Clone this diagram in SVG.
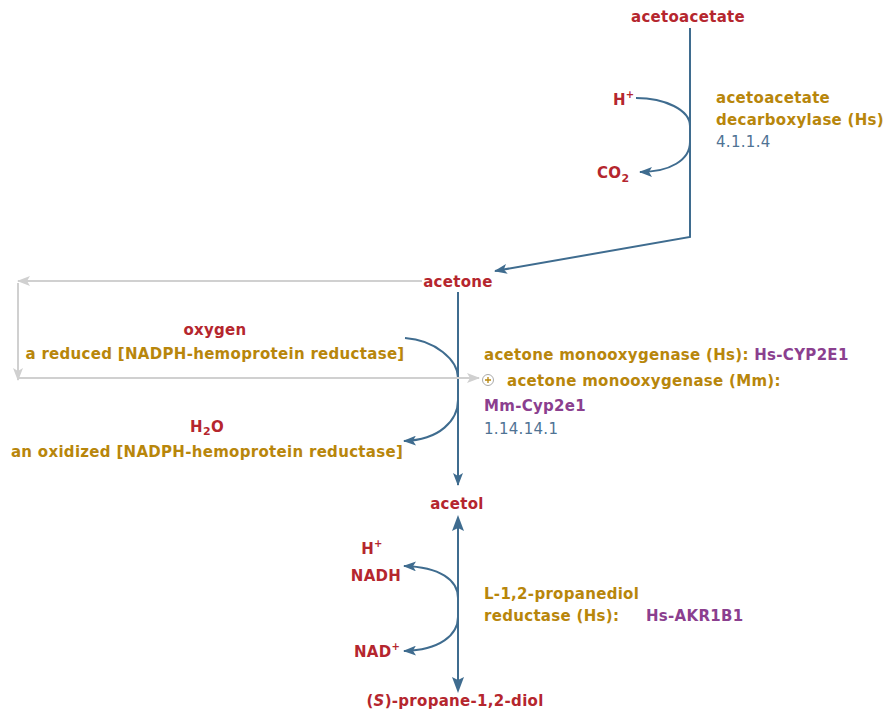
<svg xmlns="http://www.w3.org/2000/svg" width="889" height="715" viewBox="0 0 889 715">
<style>
text{font-family:"DejaVu Sans","Liberation Sans",sans-serif;font-weight:bold;font-size:15px;letter-spacing:0.3px}
.c{fill:#b5262e}
.e{fill:#b8860b}
.g{fill:#8b3f8f}
.n{fill:#4f7394;font-weight:normal}
.ln{fill:none;stroke:#3f6c8f;stroke-width:2}
.gr{fill:none;stroke:#d0d0d0;stroke-width:2}
</style>
<defs>
<marker id="a" markerWidth="13" markerHeight="10" refX="12" refY="5" orient="auto" markerUnits="userSpaceOnUse"><path d="M0,0 L13,5 L0,10 L3,5 Z" fill="#3f6c8f"/></marker>
<marker id="ag" markerWidth="13" markerHeight="10" refX="12" refY="5" orient="auto" markerUnits="userSpaceOnUse"><path d="M0,0 L13,5 L0,10 L3,5 Z" fill="#d0d0d0"/></marker>
</defs>
<g id="connectors">
<polyline class="ln" points="690,28 690,237 495,271" marker-end="url(#a)"/>
<path class="ln" d="M636,98 C665,98 690,110 690,126"/>
<path class="ln" d="M690,142 C690,160 670,172 640,172" marker-end="url(#a)"/>
<line class="ln" x1="458" y1="292" x2="458" y2="485" marker-end="url(#a)"/>
<path class="ln" d="M405,338 C435,340 458,360 458,378"/>
<path class="ln" d="M458,400 C458,420 440,440 404,441" marker-end="url(#a)"/>
<polyline class="gr" points="422,281 18,281" marker-end="url(#ag)"/>
<polyline class="gr" points="18,283 18,380" marker-end="url(#ag)"/>
<polyline class="gr" points="18,378 479,378" marker-end="url(#ag)"/>
<line class="ln" x1="458" y1="528" x2="458" y2="680"/>
<path d="M458,515 L452,531 L458,528 L464,531 Z" fill="#3f6c8f"/>
<path d="M458,693 L452,677 L458,680 L464,677 Z" fill="#3f6c8f"/>
<path class="ln" d="M458,598 C458,580 440,567 404,566" marker-end="url(#a)"/>
<path class="ln" d="M458,617 C458,635 440,650 404,651" marker-end="url(#a)"/>
</g>
<g id="n-acetoacetate"><text class="c" x="688" y="22" text-anchor="middle">acetoacetate</text></g>
<g id="n-hplus1"><text class="c" x="613" y="105">H<tspan font-size="10" dy="-7">+</tspan></text></g>
<g id="n-co2"><text class="c" x="597" y="178">CO<tspan font-size="11" dy="4">2</tspan></text></g>
<g id="n-enz1">
<text class="e" x="716" y="103">acetoacetate</text>
<text class="e" x="716" y="125">decarboxylase (Hs)</text>
<text class="n" x="716" y="147">4.1.1.4</text>
</g>
<g id="n-acetone"><text class="c" x="458" y="287" text-anchor="middle">acetone</text></g>
<g id="n-oxygen">
<text class="c" x="215" y="335" text-anchor="middle">oxygen</text>
<text class="e" x="215" y="359" text-anchor="middle">a reduced [NADPH-hemoprotein reductase]</text>
</g>
<g id="n-h2o">
<text class="c" x="207" y="432" text-anchor="middle">H<tspan font-size="11" dy="3">2</tspan><tspan dy="-3">O</tspan></text>
<text class="e" x="207" y="457" text-anchor="middle">an oxidized [NADPH-hemoprotein reductase]</text>
</g>
<g id="n-enz2">
<text class="e" x="484" y="360">acetone monooxygenase (Hs): <tspan class="g">Hs-CYP2E1</tspan></text>
<circle cx="488" cy="380" r="5.5" fill="#fff" stroke="#aaa" stroke-width="1"/>
<path d="M485,380 H491 M488,377 V383" stroke="#b8860b" stroke-width="1.3"/>
<text class="e" x="507" y="386">acetone monooxygenase (Mm):</text>
<text class="g" x="484" y="411">Mm-Cyp2e1</text>
<text class="n" x="484" y="434">1.14.14.1</text>
</g>
<g id="n-acetol"><text class="c" x="457" y="509" text-anchor="middle">acetol</text></g>
<g id="n-nadh">
<text class="c" x="372" y="554" text-anchor="middle">H<tspan font-size="10" dy="-7">+</tspan></text>
<text class="c" x="376" y="581" text-anchor="middle">NADH</text>
</g>
<g id="n-nad"><text class="c" x="354" y="657">NAD<tspan font-size="10" dy="-7">+</tspan></text></g>
<g id="n-enz3">
<text class="e" x="484" y="599">L-1,2-propanediol</text>
<text class="e" x="484" y="621">reductase (Hs):</text>
<text class="g" x="646" y="621">Hs-AKR1B1</text>
</g>
<g id="n-diol"><text class="c" x="455" y="706" text-anchor="middle">(<tspan font-style="italic">S</tspan>)-propane-1,2-diol</text></g>
</svg>
